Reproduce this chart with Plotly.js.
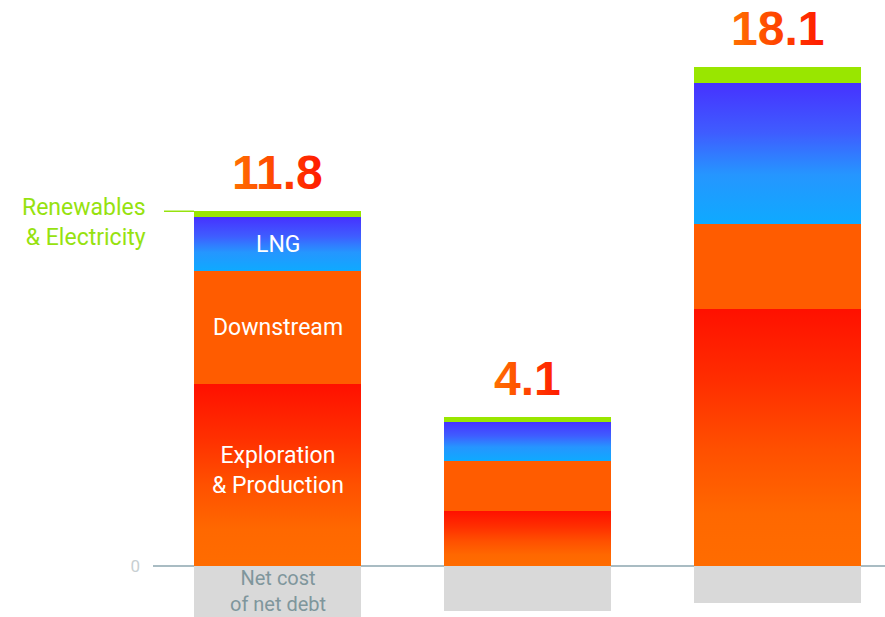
<!DOCTYPE html>
<html>
<head>
<meta charset="utf-8">
<script src="https://cdn.plot.ly/plotly-3.0.1.min.js"></script>
<style>
  html, body { margin: 0; padding: 0; background: #ffffff; }
  #chart { width: 885px; height: 617px; }
</style>
</head>
<body>
<div id="chart"></div>
<script>
// ---- Data ----
const years = ['2019', '2020', '2021'];
const explorationProduction = [7.05, 2.13, 9.98];
const downstream = [4.38, 1.94, 3.27];
const lng = [2.09, 1.52, 5.47];
const renewablesElectricity = [0.23, 0.18, 0.62];
const netCostOfNetDebt = [-1.98, -1.74, -1.42];
const totalLabels = ['11.8', '4.1', '18.1'];

// ---- Styles ----
const BAR_W = 0.668;
const FONT = 'Roboto, "Noto Sans", Arial, sans-serif';
const GREEN = '#96e20f';

function barTrace(name, values, color) {
  return {
    type: 'bar', name: name, x: years, y: values, width: BAR_W,
    marker: { color: color, line: { width: 0 } },
    hoverinfo: 'skip', showlegend: false
  };
}

const traces = [
  barTrace('Exploration & Production', explorationProduction, '#ff4200'),
  barTrace('Downstream', downstream, '#ff5c00'),
  barTrace('LNG', lng, '#2a78ff'),
  barTrace('Renewables & Electricity', renewablesElectricity, '#99e600'),
  barTrace('Net cost of net debt', netCostOfNetDebt, '#d9d9d9')
];

const tops = years.map((_, i) => explorationProduction[i] + downstream[i] + lng[i] + renewablesElectricity[i]);

// category axis: annotation x positions are category indices
const annotations = [];
years.forEach((yr, i) => {
  annotations.push({
    x: i, y: tops[i], xref: 'x', yref: 'y', yanchor: 'bottom', yshift: 10,
    text: totalLabels[i], showarrow: false,
    font: { family: '"Liberation Sans", Arial, sans-serif', size: 48, weight: 700, color: '#ff4a00' }
  });
});
const whiteFont = { family: FONT, size: 23, color: '#ffffff' };
annotations.push(
  { x: 0, y: explorationProduction[0] + downstream[0] + lng[0] / 2, yanchor: 'middle', text: 'LNG', showarrow: false, font: whiteFont },
  { x: 0, y: explorationProduction[0] + downstream[0] / 2, yanchor: 'middle', text: 'Downstream', showarrow: false, font: whiteFont },
  { x: 0, y: explorationProduction[0] / 2, yanchor: 'middle', yshift: 4.5, text: 'Exploration<br>&amp; Production', showarrow: false, font: whiteFont },
  { xref: 'paper', x: -0.0068, xanchor: 'right', align: 'right', y: tops[0], yanchor: 'middle', yshift: -11.3, text: 'Renewables<br>&amp; Electricity', showarrow: false, font: { family: FONT, size: 23, color: GREEN } },
  { x: 0, y: 0, yanchor: 'middle', yshift: -25, text: 'Net cost<br>of net debt', showarrow: false, font: { family: FONT, size: 20, color: '#7f969c' } }
);

const layout = {
  width: 885, height: 617,
  margin: { l: 153, r: 0, t: 0, b: 0, pad: 0 },
  paper_bgcolor: '#ffffff', plot_bgcolor: '#ffffff',
  barmode: 'relative', bargap: 0,
  showlegend: false,
  xaxis: {
    type: 'category', range: [-0.498, 2.43], showticklabels: false,
    showgrid: false, zeroline: false, showline: false, ticks: '', fixedrange: true
  },
  yaxis: {
    range: [-1.98, 21.94], tickvals: [0], ticktext: ['0'], showgrid: false,
    zeroline: true, zerolinecolor: '#a9bcc3', zerolinewidth: 2,
    showline: false, ticks: '', ticklabelstandoff: 12,
    tickfont: { family: FONT, size: 17, color: '#c8cfd2' },
    layer: 'above traces', fixedrange: true
  },
  shapes: [{
    type: 'line', xref: 'x', yref: 'y',
    x0: -BAR_W / 2 - 0.12, x1: -BAR_W / 2, y0: tops[0], y1: tops[0],
    line: { color: GREEN, width: 1.5 }
  }],
  annotations: annotations
};

Plotly.newPlot('chart', traces, layout, { staticPlot: true, displayModeBar: false }).then(gd => {
  try {
    const svg = gd.querySelector('svg.main-svg');
    const ns = 'http://www.w3.org/2000/svg';
    let defs = svg.querySelector('defs');
    if (!defs) { defs = document.createElementNS(ns, 'defs'); svg.insertBefore(defs, svg.firstChild); }
    function grad(id, stops, horizontal) {
      const g = document.createElementNS(ns, 'linearGradient');
      g.setAttribute('id', id);
      g.setAttribute('x1', '0'); g.setAttribute('y1', '0');
      g.setAttribute('x2', horizontal ? '1' : '0'); g.setAttribute('y2', horizontal ? '0' : '1');
      stops.forEach(([o, c]) => {
        const s = document.createElementNS(ns, 'stop');
        s.setAttribute('offset', o); s.setAttribute('stop-color', c);
        g.appendChild(s);
      });
      defs.appendChild(g);
    }
    grad('gEP', [['0', '#ff1000'], ['0.3', '#ff3000'], ['0.55', '#ff5000'], ['0.8', '#ff6800'], ['1', '#ff6c00']]);
    grad('gLNG', [['0', '#4632ff'], ['0.35', '#3f5cff'], ['0.65', '#2596ff'], ['1', '#0eaaff']]);
    grad('gTot', [['0', '#ff7000'], ['1', '#ff1a00']], true);
    const traceGroups = gd.querySelectorAll('.barlayer .trace');
    const fills = { 0: 'url(#gEP)', 2: 'url(#gLNG)' };
    traceGroups.forEach((tg, ti) => {
      if (fills[ti]) tg.querySelectorAll('path').forEach(p => { p.style.fill = fills[ti]; });
    });
    const annTexts = gd.querySelectorAll('.annotation-text');
    for (let i = 0; i < years.length; i++) {
      if (annTexts[i]) annTexts[i].style.fill = 'url(#gTot)';
    }
  } catch (e) { /* keep solid colours */ }
});
</script>
</body>
</html>
